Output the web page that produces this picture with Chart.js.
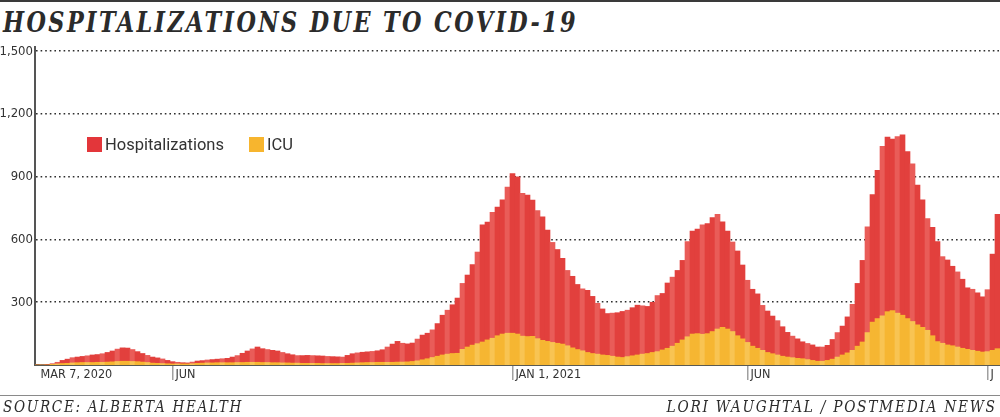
<!DOCTYPE html>
<html>
<head>
<meta charset="utf-8">
<script src="https://cdn.jsdelivr.net/npm/chart.js@4.4.1/dist/chart.umd.min.js"></script>
<style>
    html, body { margin: 0; padding: 0; background: #fff; }
    #wrap { position: relative; width: 1000px; height: 417px; overflow: hidden; }
    #chart { position: absolute; left: 0; top: 0; }
    .rule { position: absolute; left: 0; width: 1000px; }
    .fit { position: absolute; white-space: nowrap; display: inline-block; color: #2b2b2b; }
    #title {
        left: 3px; top: 9px;
        font: italic bold 28px/28px 'DejaVu Serif', serif;
        letter-spacing: 3px; transform-origin: left top;
    }
    .foot {
        top: 399px;
        font: italic 16px/16px 'DejaVu Serif', serif;
        letter-spacing: 2px;
    }
    #source { left: 3px; transform-origin: left top; }
    #credit { right: 3px; transform-origin: right top; }
    #legend {
        position: absolute; left: 87px; top: 136px; height: 17px;
        display: flex; align-items: center;
        font: 16.5px/17px Roboto, 'Liberation Sans', sans-serif; color: #333;
    }
    #legend .sw { width: 15px; height: 15px; margin-right: 3px; }
    #legend .item { display: flex; align-items: center; margin-right: 25px; }
</style>
</head>
<body>
<div id="wrap">
    <div class="rule" style="top:0;height:2px;background:#3a3a3a"></div>
    <div id="title" class="fit">HOSPITALIZATIONS DUE TO COVID-19</div>
    <canvas id="chart" width="1000" height="417"></canvas>
    <div id="legend">
        <div class="item"><div class="sw" style="background:#e3363a"></div>Hospitalizations</div>
        <div class="item"><div class="sw" style="background:#f7b52e"></div>ICU</div>
    </div>
    <div class="rule" style="top:394.5px;height:1.5px;background:#8a8a8a"></div>
    <div id="source" class="fit foot">SOURCE: ALBERTA HEALTH</div>
    <div id="credit" class="fit foot">LORI WAUGHTAL / POSTMEDIA NEWS</div>
</div>
<script>
// one bar per reporting period (Mar 2020 - end of 2021)
const hospitalizations = [
    0, 0, 2, 6, 13, 22, 28, 35, 38, 41,
    44, 48, 50, 54, 60, 67, 76, 82, 81, 74,
    64, 55, 46, 38, 34, 29, 22, 16, 13, 11,
    10, 14, 19, 21, 24, 26, 28, 30, 32, 38,
    45, 56, 67, 77, 86, 78, 74, 70, 67, 60,
    54, 49, 45, 45, 46, 45, 44, 43, 41, 40,
    39, 38, 46, 54, 58, 61, 63, 65, 68, 73,
    86, 100, 113, 104, 101, 105, 124, 143, 152, 168,
    198, 238, 262, 288, 320, 390, 430, 480, 540, 670,
    683, 730, 755, 790, 850, 915, 900, 820, 812, 788,
    738, 708, 645, 586, 552, 510, 452, 424, 385, 364,
    357, 328, 295, 268, 246, 248, 250, 256, 262, 274,
    286, 283, 280, 300, 332, 342, 392, 420, 452, 500,
    590, 640, 650, 670, 676, 705, 720, 684, 640, 588,
    545, 478, 405, 362, 340, 285, 258, 234, 212, 183,
    156, 138, 125, 111, 103, 96, 86, 86, 94, 122,
    155, 186, 230, 290, 390, 500, 660, 814, 930, 1045,
    1090, 1080, 1092, 1100, 1020, 962, 860, 790, 700, 658,
    590, 518, 502, 472, 445, 410, 369, 362, 345, 326,
    360, 530, 720
];

const icu = [
    0, 0, 0, 3, 5, 7, 8, 10, 11, 12,
    12, 12, 13, 13, 14, 15, 17, 18, 18, 17,
    16, 14, 12, 9, 8, 7, 6, 5, 5, 5,
    5, 6, 8, 9, 10, 10, 11, 11, 11, 11,
    12, 12, 13, 13, 13, 12, 12, 11, 11, 10,
    10, 9, 9, 8, 8, 8, 8, 7, 7, 7,
    7, 8, 8, 9, 10, 11, 12, 12, 13, 13,
    13, 13, 14, 14, 15, 17, 20, 25, 30, 36,
    42, 48, 52, 55, 56, 75, 86, 95, 102, 110,
    120, 128, 140, 148, 152, 152, 148, 138, 136, 137,
    126, 118, 113, 108, 104, 100, 92, 82, 74, 68,
    60, 55, 52, 48, 46, 42, 38, 36, 40, 44,
    48, 52, 55, 60, 64, 72, 80, 90, 104, 120,
    135, 148, 150, 147, 150, 160, 172, 180, 172, 160,
    140, 125, 108, 90, 80, 70, 60, 54, 48, 42,
    38, 35, 32, 30, 26, 22, 18, 18, 22, 28,
    38, 48, 58, 70, 90, 110, 155, 205, 222, 235,
    255, 260, 248, 238, 222, 208, 192, 180, 166, 140,
    112, 104, 96, 92, 86, 80, 75, 70, 66, 62,
    64, 70, 78
];

// x-axis labels and the bar they sit on
const xTickLabels = ['MAR 7, 2020', 'JUN', 'JAN 1, 2021', 'JUN', 'J'];
const xTickIndex = [0, 27, 95, 142, 190];

const yTicks = [300, 600, 900, 1200, 1500];

const labelAt = {};
xTickIndex.forEach((idx, k) => { labelAt[idx] = xTickLabels[k]; });

const narrow = "'Liberation Sans Narrow', 'DejaVu Sans Condensed', 'Roboto Condensed', 'Liberation Sans', sans-serif";

new Chart(document.getElementById('chart'), {
    type: 'bar',
    data: {
        labels: hospitalizations.map((_, i) => i),
        datasets: [
            {
                label: 'ICU',
                data: icu,
                backgroundColor: icu.map((_, i) => i % 3 === 1 ? '#f8c453' : '#f6b632'),
                order: 1
            },
            {
                label: 'Hospitalizations',
                data: hospitalizations,
                backgroundColor: hospitalizations.map((_, i) => i % 3 === 1 ? '#e95c58' : '#e2403d'),
                order: 2
            }
        ]
    },
    options: {
        responsive: false,
        animation: false,
        events: [],
        layout: { padding: { top: 47, right: 0, bottom: 27, left: 0 } },
        datasets: {
            bar: {
                grouped: false,
                categoryPercentage: 1,
                barPercentage: 1,
                borderWidth: 0
            }
        },
        plugins: {
            legend: { display: false },
            tooltip: { enabled: false }
        },
        scales: {
            x: {
                type: 'category',
                afterFit(scale) { scale.height = 25; },
                border: { display: true, color: '#5a5a52', width: 2 },
                grid: {
                    offset: false,
                    drawOnChartArea: false,
                    drawTicks: true,
                    tickLength: 15,
                    lineWidth: 1.5,
                    color: ctx => (labelAt[ctx.index] && ctx.index > 0) ? '#a0a0a0' : 'rgba(0,0,0,0)'
                },
                ticks: {
                    autoSkip: false,
                    maxRotation: 0,
                    minRotation: 0,
                    align: 'start',
                    labelOffset: 3,
                    padding: -13,
                    color: '#333',
                    font: { family: narrow, size: 12.5 },
                    callback: (value, index) => labelAt[index] || ''
                }
            },
            y: {
                min: 0,
                max: 1520,
                afterFit(scale) { scale.width = 35; },
                afterBuildTicks(scale) {
                    scale.ticks = yTicks.map(v => ({ value: v }));
                },
                border: { display: true, color: '#555', width: 2, dash: [1.6, 3] },
                grid: {
                    drawTicks: false,
                    lineWidth: 1.6,
                    color: '#2e2e2e'
                },
                ticks: {
                    padding: 2,
                    color: '#333',
                    font: { family: narrow, size: 13 },
                    callback: v => v.toLocaleString('en-US')
                }
            }
        }
    }
});

function fitText() {
    const targets = { title: 575, source: 240, credit: 330 };
    for (const [id, w] of Object.entries(targets)) {
        const el = document.getElementById(id);
        el.style.transform = 'none';
        const nat = el.getBoundingClientRect().width;
        el.style.transform = `scaleX(${w / nat})`;
    }
}
fitText();
document.fonts.ready.then(fitText);
</script>
</body>
</html>
